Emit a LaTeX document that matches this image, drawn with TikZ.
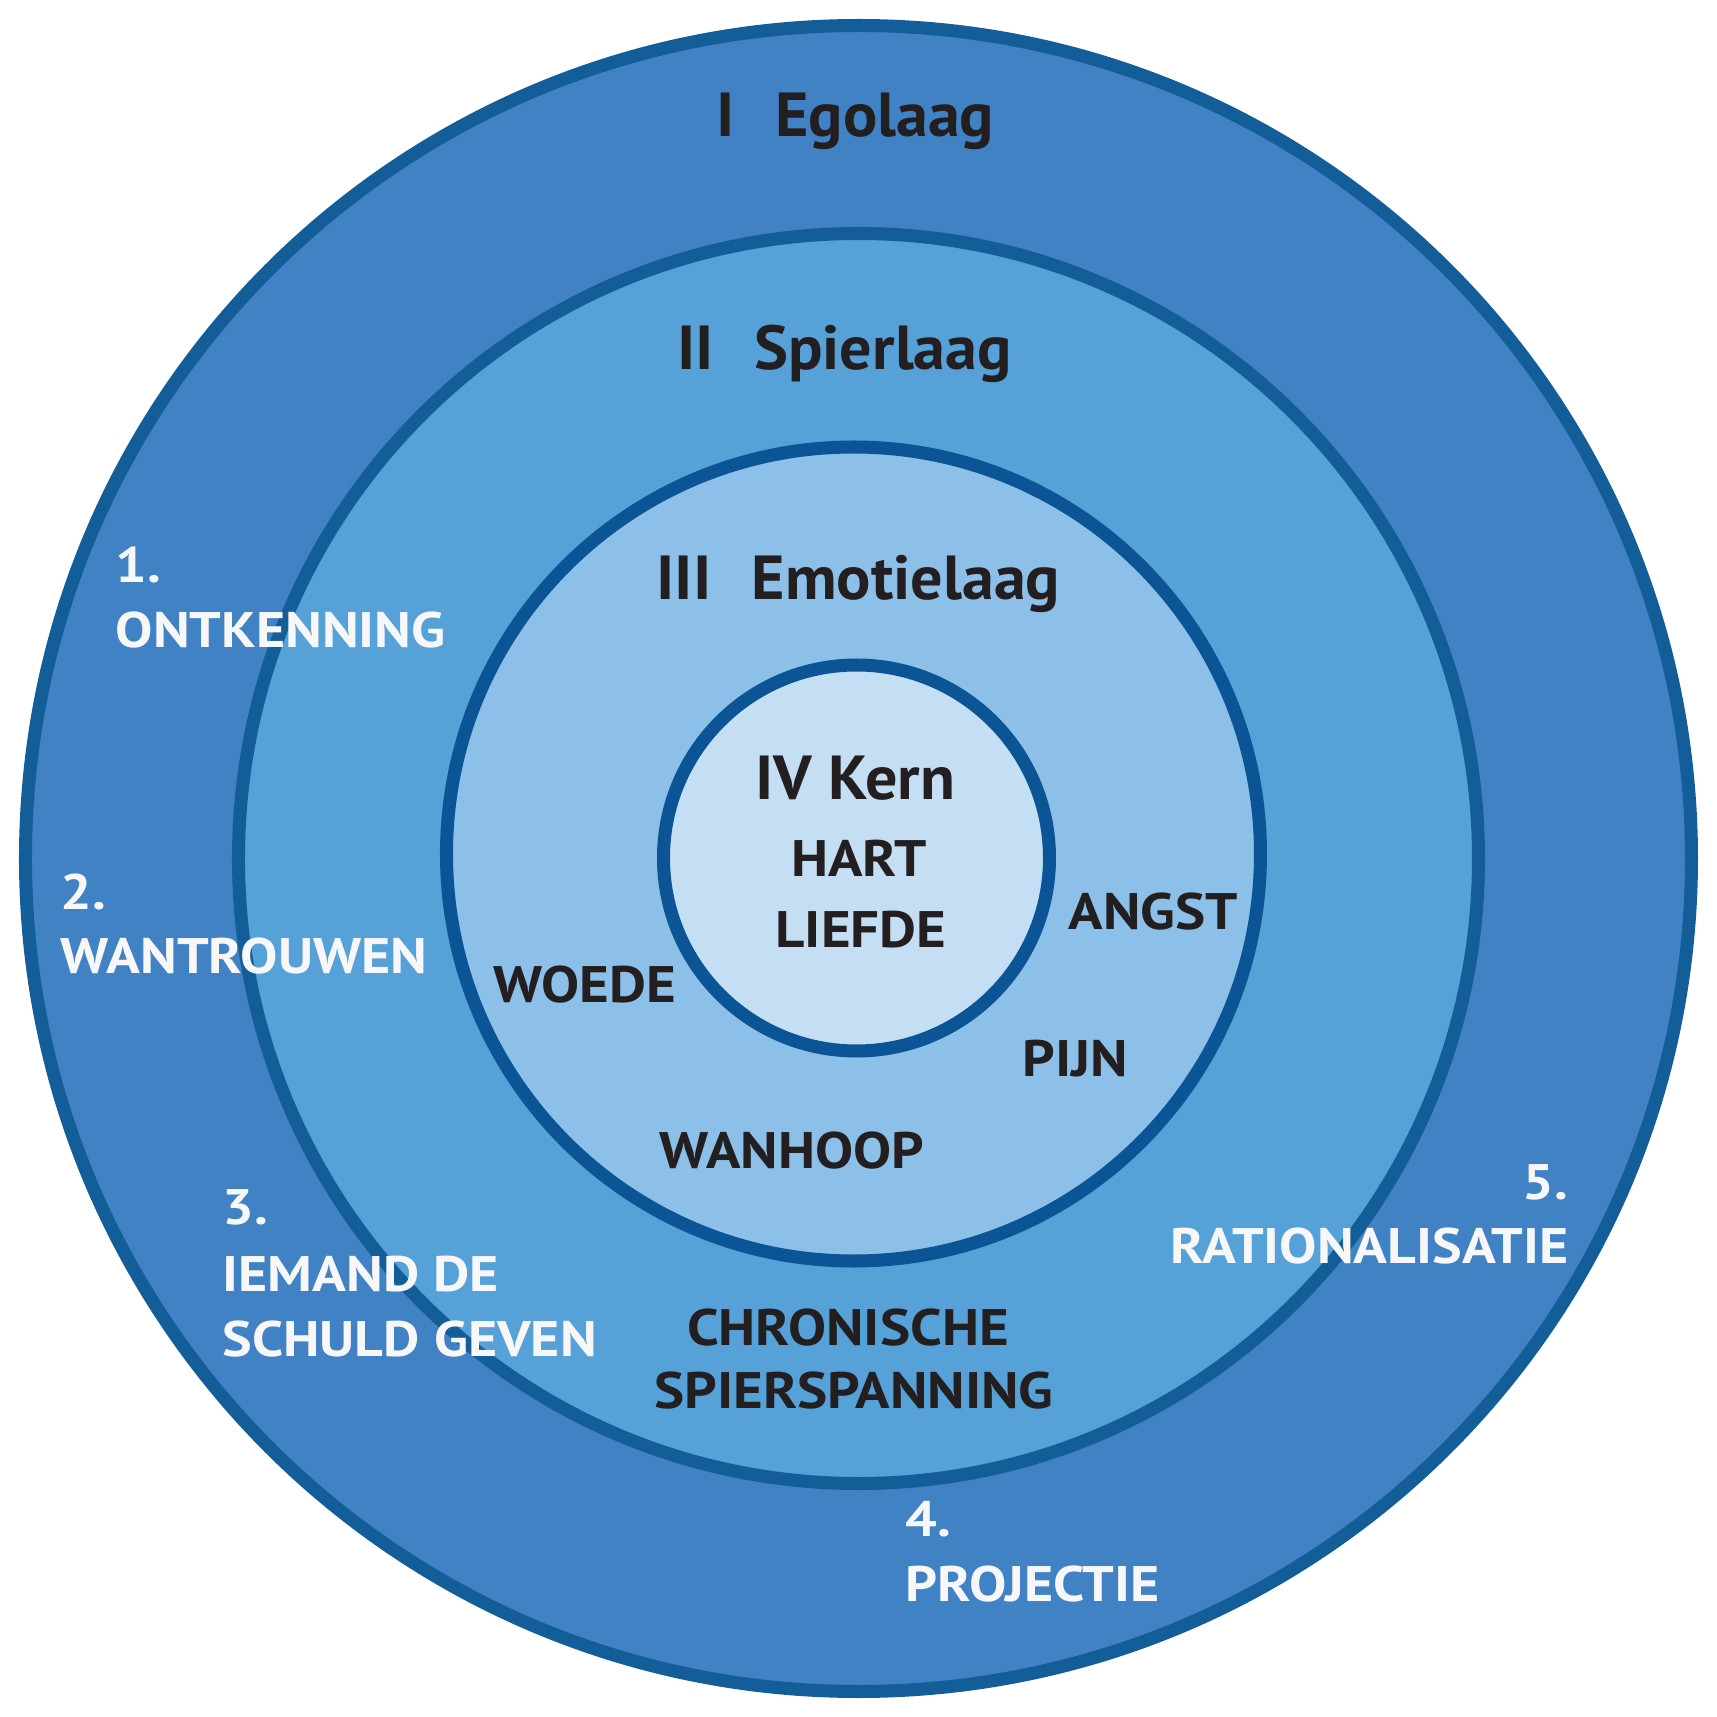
\documentclass[tikz,border=0pt]{standalone}
\usepackage{fontspec}
\setmainfont{PT Sans}
\newfontfamily\titelfont[FakeStretch=1.03]{PT Sans}
\newfontfamily\gevoelfont[FakeStretch=1.11]{PT Sans}
\newfontfamily\afweerfont[FakeStretch=1.12]{PT Sans}
\definecolor{egoblue}{HTML}{4082C4}
\definecolor{spierblue}{HTML}{56A1D8}
\definecolor{emoblue}{HTML}{8CC0E8}
\definecolor{kernblue}{HTML}{C4DFF4}
\definecolor{ringblue}{HTML}{135E98}
\definecolor{ringdark}{HTML}{0B5496}
\definecolor{textdark}{HTML}{231F20}
\definecolor{textwhite}{HTML}{F7F7F8}
\tikzset{
  ring/.style={draw=ringblue, line width=3.7pt},
  laagtitle/.style={text=textdark, font=\titelfont\fontsize{17.7}{20}\selectfont\bfseries, anchor=base, inner sep=0pt},
  gevoel/.style={text=textdark, font=\gevoelfont\fontsize{14.6}{17}\selectfont\bfseries, inner sep=0pt},
  afweer/.style={text=textwhite, font=\afweerfont\fontsize{14.2}{17}\selectfont\bfseries, anchor=base west, inner sep=0pt}
}
\begin{document}
\begin{tikzpicture}
        \useasboundingbox (-8.585,-8.585) rectangle (8.585,8.585);
        % de vier lagen
        \draw[ring, fill=egoblue] (0,0) circle (8.33);
        \draw[ring, fill=spierblue] (0,0) ellipse (6.2 and 6.25);
        \draw[ring, draw=ringdark, fill=emoblue] (-0.05,0.045) circle (4.07);
        \draw[ring, draw=ringdark, fill=kernblue] (-0.02,0.005) circle (1.93);

        % namen van de lagen
        \node[laagtitle] (ego) at (-0.03,7.215) {I\hspace{0.65em}Egolaag};
        \node[laagtitle] (spier) at (-0.14,4.885) {II\hspace{0.65em}Spierlaag};
        \node[laagtitle] (emotie) at (0,2.585) {III\hspace{0.65em}Emotielaag};
        \node[laagtitle] (kern) at (-0.03,0.595) {IV Kern};

        % kern
        \node[gevoel, anchor=base] (hart) at (0.005,-0.185) {HART};
        \node[gevoel, anchor=base] (liefde) at (0.025,-0.885) {LIEFDE};

        % emoties
        \node[gevoel, anchor=base west] (angst) at (2.095,-0.705) {ANGST};
        \node[gevoel, anchor=base west] (woede) at (-3.655,-1.435) {WOEDE};
        \node[gevoel, anchor=base west] (pijn) at (1.635,-2.175) {PIJN};
        \node[gevoel, anchor=base west] (wanhoop) at (-1.995,-3.095) {WANHOOP};

        % spierlaag
        \node[gevoel, anchor=base] (chronisch) at (-0.105,-4.865) {CHRONISCHE};
        \node[gevoel, anchor=base] (spanning) at (-0.045,-5.495) {SPIERSPANNING};

        % afweermechanismen
        \node[afweer] (een) at (-7.435,2.755) {1.};
        \node[afweer] (ontkenning) at (-7.435,2.105) {ONTKENNING};
        \node[afweer] (twee) at (-7.985,-0.505) {2.};
        \node[afweer] (wantrouwen) at (-7.985,-1.145) {WANTROUWEN};
        \node[afweer] (drie) at (-6.365,-3.655) {3.};
        \node[afweer] (iemand) at (-6.365,-4.325) {IEMAND DE};
        \node[afweer] (schuld) at (-6.365,-4.975) {SCHULD GEVEN};
        \node[afweer] (vier) at (0.465,-6.775) {4.};
        \node[afweer] (projectie) at (0.465,-7.425) {PROJECTIE};
        \node[afweer, anchor=base east] (vijf) at (7.105,-3.405) {5.};
        \node[afweer, anchor=base east] (ratio) at (7.105,-4.045) {RATIONALISATIE};
\end{tikzpicture}
\end{document}
